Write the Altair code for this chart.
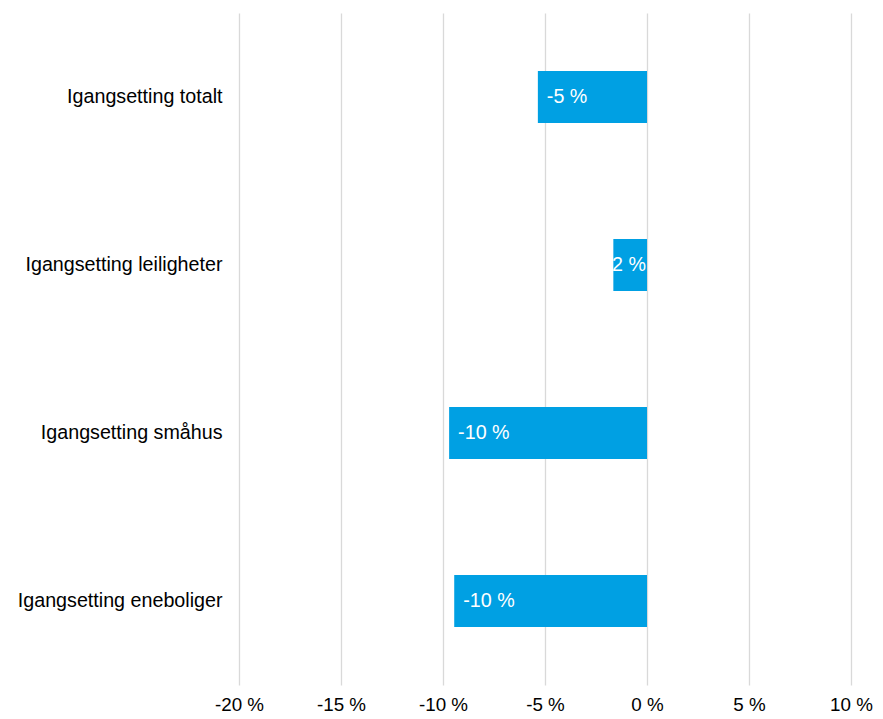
import altair as alt
import pandas as pd

categories = ["Igangsetting totalt", "Igangsetting leiligheter", "Igangsetting småhus", "Igangsetting eneboliger"]
values = [-5.35, -1.65, -9.7, -9.45]
labels = ["-5 %", "-2 %", "-10 %", "-10 %"]
label_side = ["left", "right", "left", "left"]
x_ticks = [-20, -15, -10, -5, 0, 5, 10]

df = pd.DataFrame({"cat": categories, "val": values, "lab": labels, "side": label_side, "zero": [0] * 4})

FONT = "Liberation Sans"
BLUE = "#00A0E3"
FS = 19.7

y = alt.Y("cat:N", sort=categories, title=None,
          scale=alt.Scale(paddingInner=0, paddingOuter=0),
          axis=alt.Axis(domain=False, ticks=False, labelFont=FONT, labelFontSize=FS,
                        labelColor="#000000", labelPadding=17, labelLimit=400, grid=False))
xscale = alt.Scale(domain=[-20, 10], nice=False, zero=False)
x = alt.X("val:Q", scale=xscale, title=None,
          axis=alt.Axis(values=x_ticks, domain=False, ticks=False, grid=True,
                        gridColor="#d9d9d9", gridWidth=1.3,
                        labelFont=FONT, labelFontSize=18.8, labelColor="#000000",
                        labelPadding=10, labelFlush=False, labelOverlap=False,
                        labelExpr="datum.value + ' %'"))

bars = alt.Chart(df).mark_bar(color=BLUE, size=52).encode(
    y=y, x=x, x2="zero:Q")

text_left = alt.Chart(df).transform_filter("datum.side == 'left'").mark_text(
    align="left", baseline="middle", dx=9, font=FONT, fontSize=FS, color="white"
).encode(y=alt.Y("cat:N", sort=categories), x=alt.X("val:Q", scale=xscale), text="lab:N")

text_right = alt.Chart(df).transform_filter("datum.side == 'right'").mark_text(
    align="right", baseline="middle", dx=-1, font=FONT, fontSize=FS, color="white"
).encode(y=alt.Y("cat:N", sort=categories), x=alt.X("zero:Q", scale=xscale), text="lab:N")

chart = (bars + text_left + text_right).properties(
    width=612, height=672,
    background="white",
    autosize=alt.AutoSizeParams(type="none"),
    padding={"left": 231, "top": 5, "right": 24, "bottom": 30},
).configure_view(strokeWidth=0, stroke="transparent")

chart.save("out.html", embed_options={"renderer": "svg", "actions": False})
